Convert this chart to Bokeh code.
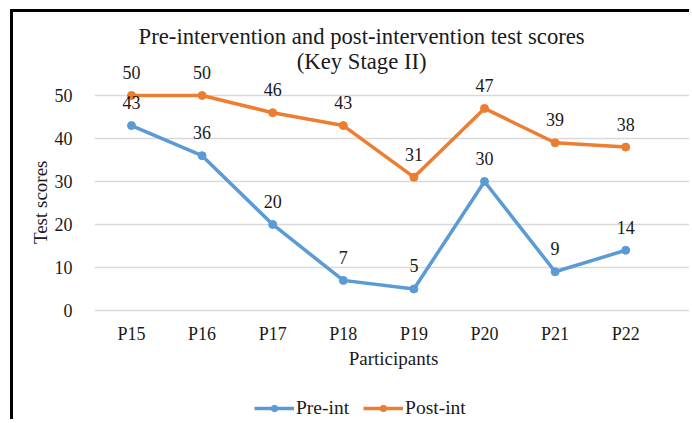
from bokeh.plotting import figure
from bokeh.models import Range1d, LinearAxis, Legend, LegendItem, Title, FixedTicker
from bokeh.core.properties import value
from bokeh.embed import file_html
from bokeh.resources import INLINE

categories = ["P15", "P16", "P17", "P18", "P19", "P20", "P21", "P22"]
pre_int = [43, 36, 20, 7, 5, 30, 9, 14]
post_int = [50, 50, 46, 43, 31, 47, 39, 38]
y_ticks = [0, 10, 20, 30, 40, 50]
title_lines = ["Pre-intervention and post-intervention test scores", "(Key Stage II)"]
x_title = "Participants"
y_title = "Test scores"
series_names = ["Pre-int", "Post-int"]

BLUE = "#5B9BD5"
ORANGE = "#ED7D31"
FONT = "Liberation Serif"
TXT = "#1a1a1a"

xs = list(range(len(categories)))

p = figure(width=679, height=410, output_backend="svg", toolbar_location=None,
           x_range=Range1d(-0.524, 7.946), y_range=Range1d(-26.05, 69.30),
           x_axis_location=None, y_axis_location="left",
           min_border_left=81, min_border_right=0, min_border_top=0, min_border_bottom=0)
p.margin = (9, 0, 0, 10)
p.outline_line_color = None
p.background_fill_color = "white"
p.border_fill_color = "white"
p.styles = {"border-left": "3px solid black", "border-top": "3px solid black"}
for g in p.grid:
    if g.dimension == 0:
        g.visible = False

# y axis
p.yaxis.ticker = FixedTicker(ticks=y_ticks)
p.yaxis.axis_line_color = None
p.yaxis.major_tick_line_color = None
p.yaxis.minor_tick_line_color = None
p.yaxis.major_label_text_font = FONT
p.yaxis.major_label_text_font_size = "18px"
p.yaxis.major_label_text_color = TXT
p.yaxis.major_label_standoff = 16
p.ygrid.grid_line_color = "#d9d9d9"
p.ygrid.grid_line_width = 1.3

ytitle = Title(text=y_title, align="right", offset=148, text_font=FONT,
               text_font_size="19px", text_font_style="normal", text_color=TXT)
if "standoff" in Title.properties():
    ytitle.standoff = 1
p.add_layout(ytitle, "left")

# x axis at y=0
xaxis = LinearAxis(fixed_location=0, ticker=FixedTicker(ticks=xs),
                   major_label_overrides={i: c for i, c in zip(xs, categories)},
                   axis_label=x_title)
xaxis.axis_line_color = None
xaxis.major_tick_line_color = None
xaxis.minor_tick_line_color = None
xaxis.major_label_text_font = FONT
xaxis.major_label_text_font_size = "18px"
xaxis.major_label_text_color = TXT
xaxis.major_label_standoff = 8
xaxis.axis_label_text_font = FONT
xaxis.axis_label_text_font_size = "19px"
xaxis.axis_label_text_font_style = "normal"
xaxis.axis_label_text_color = TXT
xaxis.axis_label_standoff = 0
p.add_layout(xaxis, "below")

# series
l1 = p.line(xs, pre_int, line_color=BLUE, line_width=3.5)
s1 = p.scatter(xs, pre_int, marker="circle", size=8, fill_color=BLUE, line_color=BLUE)
l2 = p.line(xs, post_int, line_color=ORANGE, line_width=3.5)
s2 = p.scatter(xs, post_int, marker="circle", size=8, fill_color=ORANGE, line_color=ORANGE)

for vals in (pre_int, post_int):
    p.text(xs, vals, text=[str(v) for v in vals], text_align="center",
           text_baseline="alphabetic", y_offset=-23,
           text_font=value(FONT), text_font_size="18px", text_color=TXT)

# title
p.text([3.26, 3.26], [63.73, 57.91], text=title_lines, text_align="center",
       text_baseline="alphabetic", text_font=value(FONT), text_font_size="22.7px",
       text_color=TXT)

legend = Legend(items=[LegendItem(label=series_names[0], renderers=[l1, s1]),
                       LegendItem(label=series_names[1], renderers=[l2, s2])],
                orientation="horizontal", location=(160, 3),
                glyph_width=40, glyph_height=16, label_height=16,
                label_standoff=2, spacing=14, padding=0, margin=0,
                border_line_color=None, background_fill_alpha=0,
                label_text_font=FONT, label_text_font_size="19.5px", label_text_color=TXT)
p.add_layout(legend, "center")

open("out.html", "w").write(file_html(p, INLINE))
